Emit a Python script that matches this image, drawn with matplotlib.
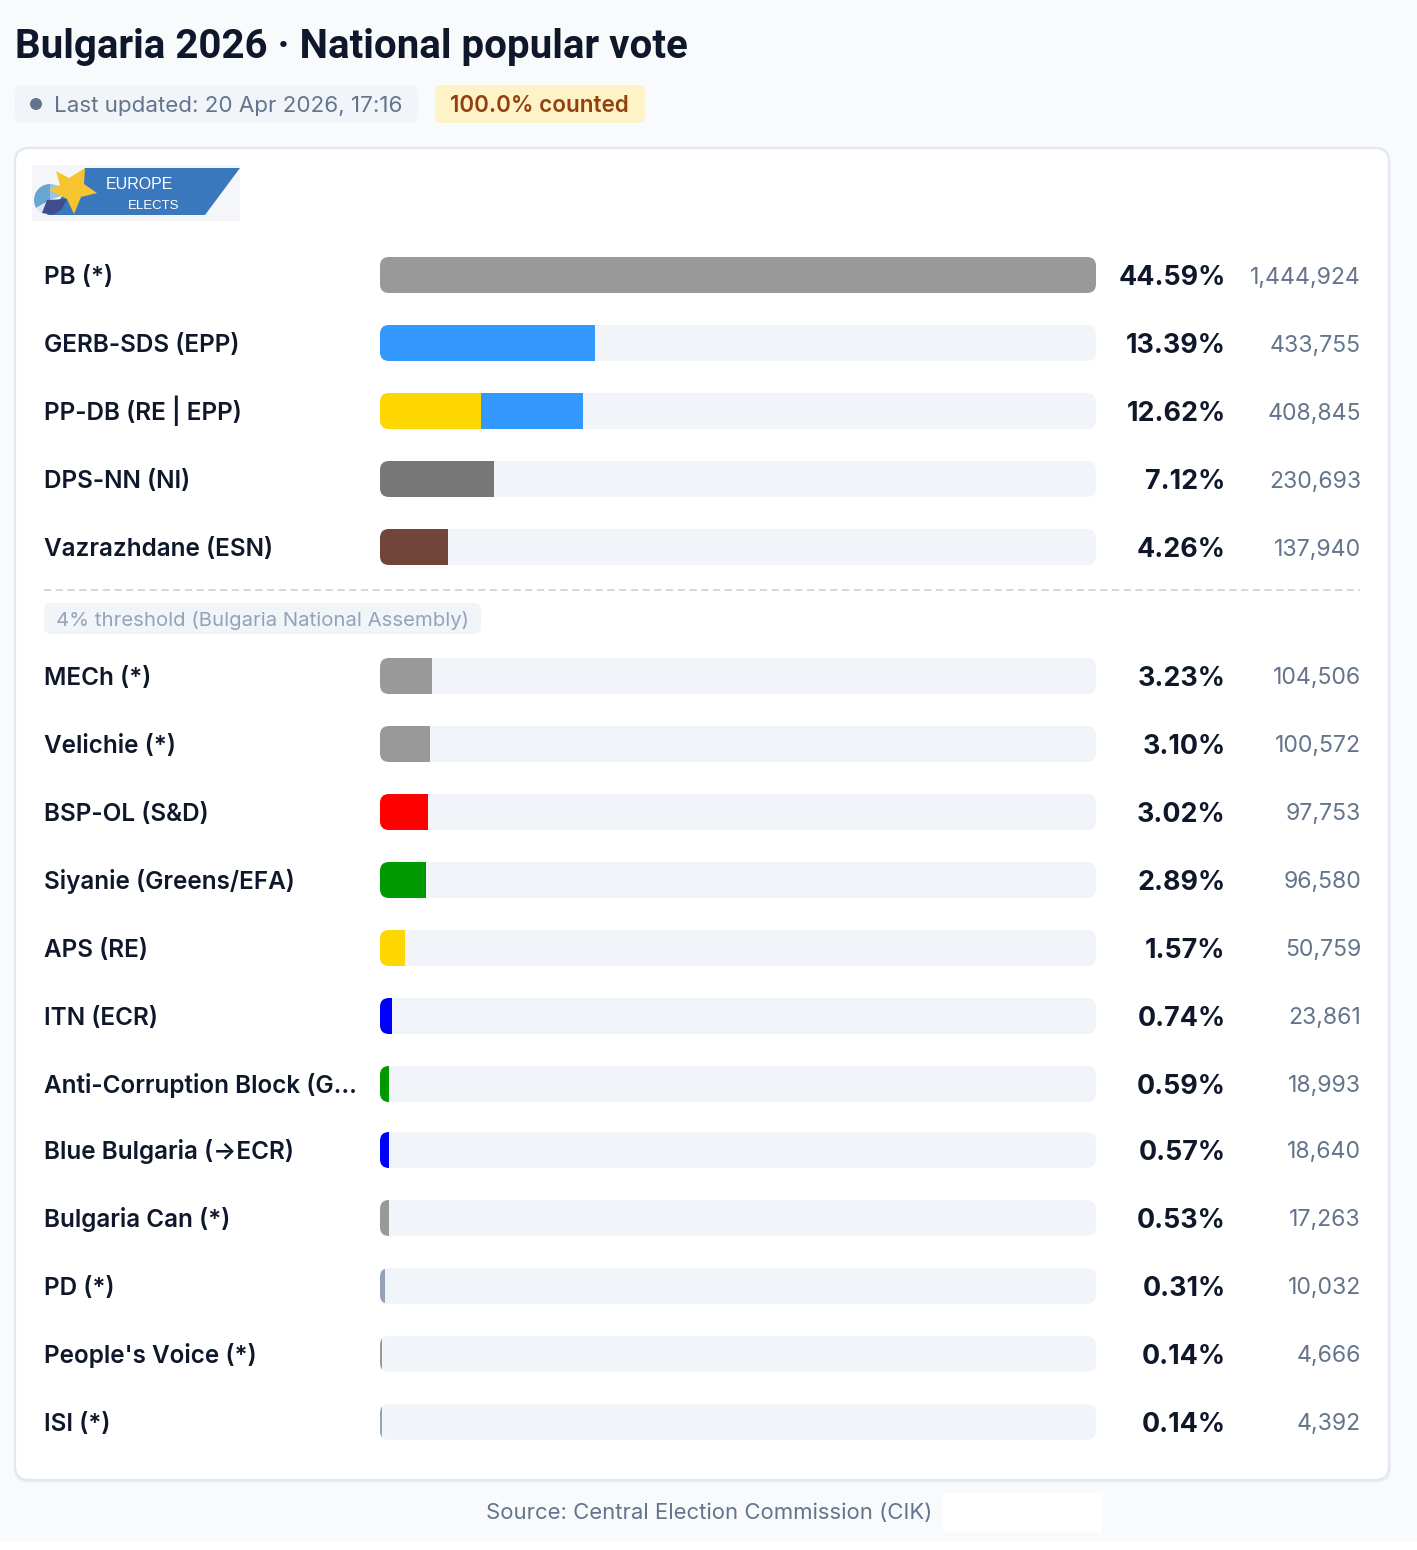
import matplotlib
matplotlib.use("Agg")
import matplotlib.pyplot as plt
from matplotlib.patches import FancyBboxPatch, Polygon, Rectangle, Circle, Wedge

# ---------- data ----------
parties = ["PB (*)", "GERB-SDS (EPP)", "PP-DB (RE | EPP)", "DPS-NN (NI)", "Vazrazhdane (ESN)",
           "MECh (*)", "Velichie (*)", "BSP-OL (S&D)", "Siyanie (Greens/EFA)", "APS (RE)",
           "ITN (ECR)", "Anti-Corruption Block (G…", "Blue Bulgaria (→ECR)", "Bulgaria Can (*)",
           "PD (*)", "People's Voice (*)", "ISI (*)"]
shares = [44.59, 13.39, 12.62, 7.12, 4.26, 3.23, 3.10, 3.02, 2.89, 1.57, 0.74, 0.59, 0.57, 0.53, 0.31, 0.14, 0.14]
votes = [1444924, 433755, 408845, 230693, 137940, 104506, 100572, 97753, 96580, 50759,
         23861, 18993, 18640, 17263, 10032, 4666, 4392]
colors = [["#999999"], ["#3399FF"], ["#FFD700", "#3399FF"], ["#777777"], ["#714539"],
          ["#999999"], ["#999999"], ["#FF0000"], ["#009900"], ["#FFD700"],
          ["#0000FF"], ["#009900"], ["#0000FF"], ["#999999"],
          ["#94A3B8"], ["#999999"], ["#94A3B8"]]
title = "Bulgaria 2026 · National popular vote"
updated = "Last updated: 20 Apr 2026, 17:16"
counted = "100.0% counted"
threshold_label = "4% threshold (Bulgaria National Assembly)"
source = "Source: Central Election Commission (CIK)"

# ---------- layout ----------
W, H = 1417, 1550
plt.rcParams["font.family"] = ["Inter", "Noto Sans", "DejaVu Sans"]
fig = plt.figure(figsize=(W / 100, H / 100), dpi=100, facecolor="white")
page = fig.add_axes([0, 0, 1, 1], zorder=1)
page.set_xlim(0, W); page.set_ylim(H, 0); page.axis("off")

INK, SLATE, MUTED, TRACK = "#0F172A", "#64748B", "#94A3B8", "#F1F5F9"

def rbox(ax, x0, y0, x1, y1, r, fc, ec="none", lw=0, z=1):
    p = FancyBboxPatch((x0 + r, y0 + r), x1 - x0 - 2 * r, y1 - y0 - 2 * r,
                       boxstyle=f"round,pad={r},rounding_size={r}", fc=fc, ec=ec, lw=lw, zorder=z)
    ax.add_patch(p)
    return p

page.add_patch(Rectangle((0, 0), W, 1542, fc="#F8FAFC", ec="none", zorder=0))
page.text(15, 58, title, fontsize=29, fontweight="bold", color=INK, va="baseline", ha="left",
          family=["Roboto", "Inter", "DejaVu Sans"])

rbox(page, 15, 85, 418, 123, 7, TRACK)
page.add_patch(Circle((36, 104), 6, fc=SLATE, ec="none", zorder=2))
page.text(54, 112, updated, fontsize=16.1, color=SLATE, va="baseline", ha="left")
rbox(page, 435, 85, 645, 123, 7, "#FEF3C7")
page.text(450, 112, counted, fontsize=16.15, fontweight="semibold", color="#92400E", va="baseline", ha="left")

# card with faint shadow
rbox(page, 14, 150, 1391, 1483, 15, "#EEF1F5", z=1)
rbox(page, 15, 148, 1389, 1480, 14, "white", ec="#E2E8F0", lw=1.6, z=1.1)

# logo
page.add_patch(Rectangle((32, 165), 208, 56, fc="#F5F6FA", ec="none", zorder=2))
page.add_patch(Polygon([[85, 168], [240, 168], [205, 215], [47, 215]], fc="#3A78BE", ec="none", zorder=2.1))
page.add_patch(Wedge((50, 200), 16, 150, 270, fc="#6AA5D2", ec="none", zorder=2.2))
page.add_patch(Wedge((50, 200), 16, 270, 340, fc="#9DC3E2", ec="none", zorder=2.2))
page.add_patch(Wedge((50, 200), 16, 120, 150, fc="#DCE8F3", ec="none", zorder=2.2))
page.add_patch(Polygon([[47, 200], [67, 199], [62, 209], [53, 215], [42, 213]], fc="#3F4C8E", ec="none", zorder=2.4))
page.add_patch(Polygon([[56, 171], [69, 178], [85, 168], [84, 184], [97, 193], [81, 197], [74, 214],
                        [67, 199], [49, 190], [60, 185]], fc="#F5C42E", ec="none", zorder=2.3))
page.text(106, 189, "EUROPE", fontsize=11.5, color="white", va="baseline", ha="left", family="Liberation Sans", zorder=3)
page.text(128, 209, "ELECTS", fontsize=9.5, color="white", va="baseline", ha="left", family="Liberation Sans", zorder=3)

# rows: regular pitch, with the threshold divider opening a gap after the fifth row
row_y, y = [], 275
for i in range(len(parties)):
    row_y.append(y)
    y += 68
    if i == 4:
        y += 61
    if i == 11:
        y -= 2

# bars axis: x in vote share, y in page pixels
bars = fig.add_axes([380 / W, 0, 716 / W, 1], zorder=2)
bars.set_xlim(0, max(shares)); bars.set_ylim(H, 0); bars.axis("off"); bars.patch.set_alpha(0)

for name, s, v, cols, yc in zip(parties, shares, votes, colors, row_y):
    page.text(44, yc + 9, name, fontsize=17.5, fontweight="semibold", color=INK, va="baseline", ha="left", zorder=3)
    page.text(1225.5, yc + 10, f"{s:.2f}%", fontsize=19.3, fontweight="bold", color=INK, va="baseline", ha="right", zorder=3)
    page.text(1361, yc + 8.5, f"{v:,}", fontsize=16.6, color=SLATE, va="baseline", ha="right", zorder=3)
    rbox(page, 380, yc - 18, 1096, yc + 18, 9, TRACK, z=2)
    left = 0
    for c in cols:
        w = s / len(cols)
        for b in bars.barh(yc, w, left=left, height=36, color=c, linewidth=0, zorder=3):
            b.set_clip_path(FancyBboxPatch((380 + 9, yc - 9), 716 - 18, 18,
                                           boxstyle="round,pad=9,rounding_size=9", transform=page.transData))
        left += w

page.plot([44, 1360], [590, 590], color="#CBD5E1", lw=1.3, dashes=(4, 2.5), zorder=2)
rbox(page, 44, 603, 481, 634, 7, TRACK, z=2)
page.text(56, 626.5, threshold_label, fontsize=14.65, color=MUTED, va="baseline", ha="left", zorder=3)

page.text(486, 1519, source, fontsize=15.9, color=SLATE, va="baseline", ha="left", zorder=3)
page.add_patch(Rectangle((943, 1493), 159, 39, fc="white", ec="none", zorder=2))

fig.savefig("out.png", dpi=100, facecolor="white")
